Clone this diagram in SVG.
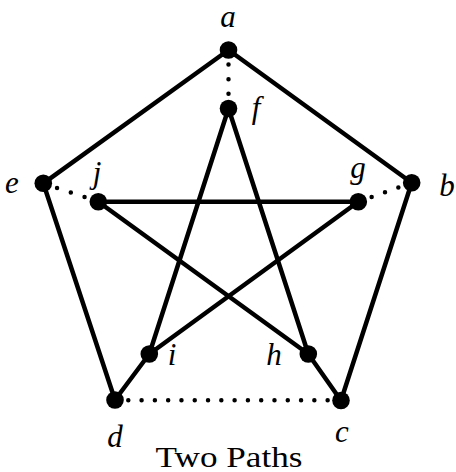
<svg xmlns="http://www.w3.org/2000/svg" width="456" height="472" viewBox="0 0 456 472">
<style>
.s{stroke:#000;stroke-width:4.5;fill:none;stroke-linecap:round}
.d{stroke:#000;stroke-width:4.5;fill:none;stroke-linecap:round}
.n{fill:#000}
.l{font-family:"Liberation Serif","Times New Roman",serif;font-style:italic;font-size:31px;fill:#000;text-anchor:middle}
.t{font-family:"Liberation Serif","Times New Roman",serif;font-size:30px;fill:#000;text-anchor:middle}
</style>
<rect width="456" height="472" fill="#fff"/>
<g id="connectors">
<line class="s" x1="228.5" y1="50" x2="411.7" y2="182.7"/>
<line class="s" x1="228.5" y1="50" x2="43.3" y2="183.3"/>
<line class="s" x1="43.3" y1="183.3" x2="115" y2="400"/>
<line class="s" x1="411.7" y1="182.7" x2="341" y2="400.5"/>
<line class="s" x1="228.5" y1="108.5" x2="149.3" y2="354"/>
<line class="s" x1="228.5" y1="108.5" x2="308.3" y2="354"/>
<line class="s" x1="98.3" y1="201.7" x2="358.3" y2="201.7"/>
<line class="s" x1="98.3" y1="201.7" x2="308.3" y2="354"/>
<line class="s" x1="358.3" y1="201.7" x2="149.3" y2="354"/>
<line class="s" x1="149.3" y1="354" x2="115" y2="400"/>
<line class="s" x1="308.3" y1="354" x2="341" y2="400.5"/>
<line class="d" x1="228.5" y1="50" x2="228.5" y2="108.5" stroke-dasharray="0 14.6"/>
<line class="d" x1="43.3" y1="183.3" x2="98.3" y2="201.7" stroke-dasharray="0 14.5"/>
<line class="d" x1="411.7" y1="182.7" x2="358.3" y2="201.7" stroke-dasharray="0 14.17"/>
<line class="d" x1="115" y1="400.3" x2="341" y2="400.3" stroke-dasharray="0 13.29"/>
</g>
<g id="node-a"><circle class="n" cx="228.5" cy="50" r="8.8"/><text class="l" x="228" y="27">a</text></g>
<g id="node-f"><circle class="n" cx="228.5" cy="108.5" r="8.8"/><text class="l" x="256" y="118">f</text></g>
<g id="node-e"><circle class="n" cx="43.3" cy="183.3" r="8.8"/><text class="l" x="12" y="193">e</text></g>
<g id="node-b"><circle class="n" cx="411.7" cy="182.7" r="8.8"/><text class="l" x="447" y="196">b</text></g>
<g id="node-j"><circle class="n" cx="98.3" cy="201.7" r="8.8"/><text class="l" x="97" y="183">j</text></g>
<g id="node-g"><circle class="n" cx="358.3" cy="201.7" r="8.8"/><text class="l" x="358" y="178">g</text></g>
<g id="node-i"><circle class="n" cx="149.3" cy="354" r="8.8"/><text class="l" x="172" y="365">i</text></g>
<g id="node-h"><circle class="n" cx="308.3" cy="354" r="8.8"/><text class="l" x="274" y="365">h</text></g>
<g id="node-d"><circle class="n" cx="115" cy="400" r="8.8"/><text class="l" x="115" y="447">d</text></g>
<g id="node-c"><circle class="n" cx="341" cy="400.5" r="8.8"/><text class="l" x="342" y="442">c</text></g>
<text class="t" x="229" y="467" textLength="147" lengthAdjust="spacingAndGlyphs">Two Paths</text>
</svg>
